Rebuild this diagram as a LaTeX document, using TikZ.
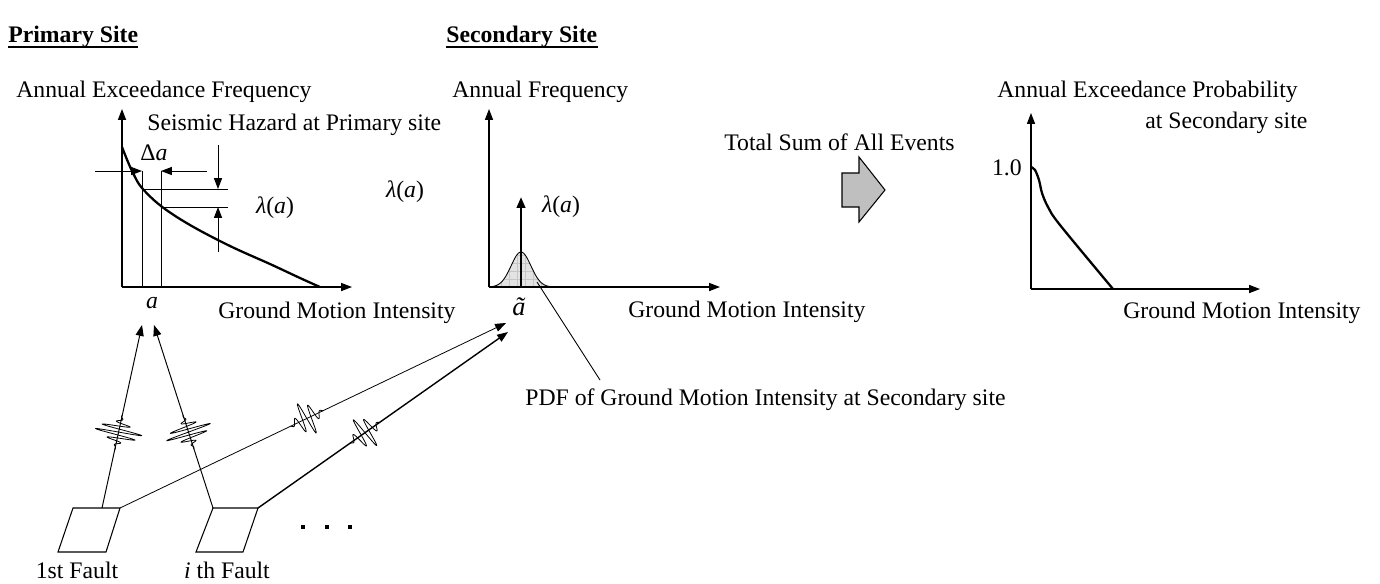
\documentclass[tikz,border=0pt]{standalone}
\usepackage{fontspec}
\setmainfont{Liberation Serif}
\usetikzlibrary{arrows.meta,calc}

\begin{document}
\begin{tikzpicture}[x=0.02cm,y=-0.02cm]
\tikzset{
  txt/.style={inner sep=0pt,font=\fontsize{13.5}{16}\selectfont},
  head/.style={txt,font=\fontsize{13.5}{16}\selectfont\bfseries},
  axisline/.style={line width=0.6pt,-{Triangle[length=6.2pt,width=4.6pt]}},
  guide/.style={line width=0.55pt},
  hazard/.style={line width=1.3pt,line cap=round,line join=round},
  ray/.style={line width=0.55pt,-{Triangle[length=6.2pt,width=4.6pt]}},
  fault/.style={line width=0.6pt},
  pics/wavelet/.style args={#1/#2/#3}{code={
    \draw[line width=0.45pt] plot[domain=-18:18,samples=241,smooth]
      (\x,{#1*exp(-(\x/#2)*(\x/#2))*sin(#3*\x)});}}
}
\useasboundingbox (0,0) rectangle (1380,583);

% headings
\node[head,anchor=base west] (h_prim) at (8,42) {Primary Site};
\node[head,anchor=base west] (h_sec) at (446,42) {Secondary Site};
\draw[line width=1.2pt] ([yshift=-2.6pt]h_prim.base west) -- ([yshift=-2.6pt]h_prim.base east);
\draw[line width=1.2pt] ([yshift=-2.6pt]h_sec.base west) -- ([yshift=-2.6pt]h_sec.base east);

% primary site: hazard curve
\coordinate (p_o) at (122,287);
\coordinate (p_y) at (122,109);
\coordinate (p_x) at (352,287);
\draw[axisline] (p_o) -- (p_y);
\draw[axisline] (p_o) -- (p_x);
\draw[hazard] plot[smooth,tension=0.6] coordinates {(122,147) (128,162) (134,175) (142,188) (161,206) (190,225) (230,246) (270,264) (300,278) (320,287)};
\coordinate (da_l) at (95,171);
\coordinate (da_r) at (207,171);
\coordinate (a_1) at (142,171);
\coordinate (a_2) at (161,171);
\draw[guide] (a_1) -- (142,287);
\draw[guide] (a_2) -- (161,287);
\draw[ray] (da_l) -- (a_1);
\draw[ray] (da_r) -- (a_2);
\draw[guide] (142,189) -- (228,189);
\draw[guide] (161,207) -- (228,207);
\draw[ray] (218,145) -- (218,189);
\draw[ray] (218,252) -- (218,207);
\node[txt,anchor=base west] (p_ylab) at (16,97) {Annual Exceedance Frequency};
\node[txt,anchor=base west] (p_haz) at (147,130) {Seismic Hazard at Primary site};
\node[txt,anchor=base] (p_da) at (154,160) {Δ\textit{a}};
\node[txt,anchor=base] (p_lam) at (275,213) {\textit{λ}(\textit{a})};
\node[txt,anchor=base] (m_lam) at (405,197) {\textit{λ}(\textit{a})};
\node[txt,anchor=base] (p_a) at (152,308) {\textit{a}};
\node[txt,anchor=base west] (p_xlab) at (218,318) {Ground Motion Intensity};

% secondary site: frequency of one event
\coordinate (s_o) at (489,287);
\coordinate (s_y) at (489,109);
\coordinate (s_x) at (720,287);
\begin{scope}
  \clip (488,287) -- plot[domain=488:553,samples=60] (\x,{287-35*exp(-((\x-521)/14)*((\x-521)/14))}) -- cycle;
  \fill[gray!22] (486,248) rectangle (556,288);
  \foreach \gx in {493,501,...,553} \draw[gray!45,line width=0.25pt] (\gx,248) -- (\gx,288);
  \foreach \gy in {255,263,...,287} \draw[gray!45,line width=0.25pt] (486,\gy) -- (556,\gy);
\end{scope}
\draw[line width=0.5pt] plot[domain=489:553,samples=60] (\x,{287-35*exp(-((\x-521)/14)*((\x-521)/14))});
\draw[axisline] (s_o) -- (s_y);
\draw[axisline] (s_o) -- (s_x);
\coordinate (s_b) at (521,287);
\coordinate (s_t) at (521,197);
\draw[line width=1.4pt,-{Triangle[length=6.2pt,width=4.8pt]}] (s_b) -- (s_t);
\coordinate (pdf_a) at (537,282);
\coordinate (pdf_b) at (600,380);
\draw[line width=0.5pt] (pdf_a) -- (pdf_b);
\node[txt,anchor=base west] (s_ylab) at (452,97) {Annual Frequency};
\node[txt,anchor=base] (s_lam) at (561,212) {\textit{λ}(\textit{a})};
\node[txt,anchor=base,font=\fontsize{15}{17}\selectfont] (s_at) at (519,315) {\textit{ã}};
\node[txt,anchor=base west] (s_xlab) at (628,317) {Ground Motion Intensity};
\node[txt,anchor=base west] (s_pdf) at (525,405) {PDF of Ground Motion Intensity at Secondary site};

% summation
\node[txt,anchor=base west] (sum) at (724,150) {Total Sum of All Events};
\draw[fill=gray!50,line width=0.6pt,line join=miter] (842,173) -- (859,173) -- (859,157) -- (885,190) -- (859,222) -- (859,207) -- (842,207) -- cycle;

% secondary site: exceedance probability
\coordinate (t_o) at (1031,289);
\coordinate (t_y) at (1031,113);
\coordinate (t_x) at (1260,289);
\draw[axisline] (t_o) -- (t_y);
\draw[axisline] (t_o) -- (t_x);
\draw[hazard] plot[smooth,tension=0.55] coordinates {(1031,167) (1035,170) (1039,180) (1042,193) (1048,207) (1060,225) (1113,289)};
\node[txt,anchor=base east] (t_one) at (1022,175) {1.0};
\node[txt,anchor=base west] (t_ylab) at (997,97) {Annual Exceedance Probability};
\node[txt,anchor=base west] (t_ylab2) at (1145,128) {at Secondary site};
\node[txt,anchor=base west] (t_xlab) at (1123,318) {Ground Motion Intensity};

% faults and rays
\coordinate (f1_tl) at (73,508);
\coordinate (f1_tr) at (120,508);
\coordinate (f1_br) at (106,552);
\coordinate (f1_bl) at (58,552);
\coordinate (f1_r) at (102,508);
\coordinate (f2_tl) at (213,508);
\coordinate (f2_tr) at (258,508);
\coordinate (f2_br) at (243,552);
\coordinate (f2_bl) at (196,552);
\coordinate (hit_1) at (142,325);
\coordinate (hit_2) at (154,325);
\coordinate (hit_3) at (506,323);
\coordinate (hit_4) at (508,332);
\draw[fault] (f1_tl) -- (f1_tr) -- (f1_br) -- (f1_bl) -- cycle;
\draw[fault] (f2_tl) -- (f2_tr) -- (f2_br) -- (f2_bl) -- cycle;
\draw[ray] (f1_r) -- (hit_1);
\draw[ray] (f2_tl) -- (hit_2);
\draw[ray,line width=0.45pt] (f1_tr) -- (hit_3);
\draw[ray,line width=0.8pt] (f2_tr) -- (hit_4);
\pic[rotate=77.7] at ($(f1_r)!0.415!(hit_1)$) {wavelet=24/8/60};
\pic[rotate=107.9] at ($(f2_tl)!0.415!(hit_2)$) {wavelet=24/8/60};
\pic[rotate=25.6] at ($(f1_tr)!0.484!(hit_3)$) {wavelet=18/10/40};
\pic[rotate=35.1] at ($(f2_tr)!0.428!(hit_4)$) {wavelet=18/10/40};
\foreach \dx in {303,327,350} \fill (\dx-2,525) rectangle (\dx+2,529);
\node[txt,anchor=base] (f1_lab) at (77,578) {1st Fault};
\node[txt,anchor=base] (f2_lab) at (227,578) {\textit{i} th Fault};
\end{tikzpicture}
\end{document}
